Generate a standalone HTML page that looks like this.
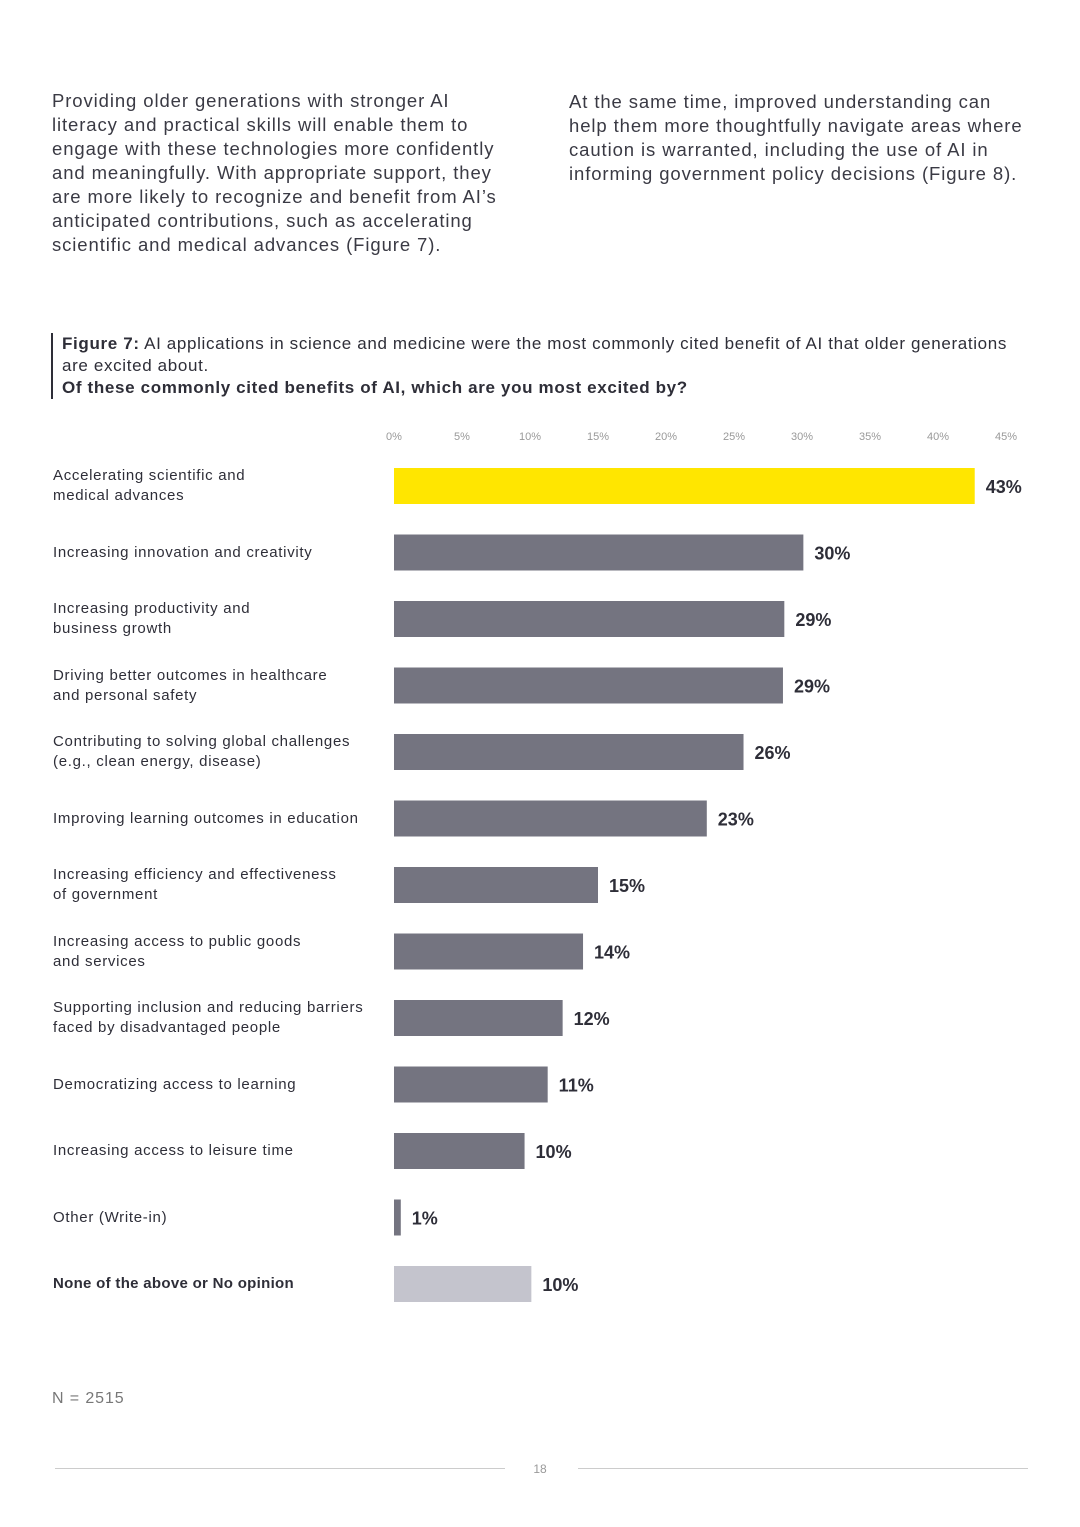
<!DOCTYPE html>
<html><head><meta charset="utf-8"><style>
body{margin:0;width:1080px;height:1527px;background:#fff;font-family:"Liberation Sans",sans-serif;color:#2e2e38;position:relative;overflow:hidden}
.p{position:absolute;font-size:18.5px;line-height:24px;letter-spacing:0.9px;color:#3a3a44;white-space:nowrap}
.cap{position:absolute;left:51px;top:333px;border-left:2px solid #2e2e38;padding-left:9px;font-size:17px;line-height:22px;letter-spacing:0.65px;white-space:nowrap;color:#2e2e38}
.lbl{position:absolute;left:53px;font-size:15px;line-height:20px;letter-spacing:0.7px;color:#2e2e38;white-space:nowrap}
</style></head><body>
<div class="p" style="left:52px;top:89px">Providing older generations with stronger AI<br>literacy and practical skills will enable them to<br>engage with these technologies more confidently<br>and meaningfully. With appropriate support, they<br>are more likely to recognize and benefit from AI’s<br>anticipated contributions, such as accelerating<br>scientific and medical advances (Figure 7).</div>
<div class="p" style="left:569px;top:90px">At the same time, improved understanding can<br>help them more thoughtfully navigate areas where<br>caution is warranted, including the use of AI in<br>informing government policy decisions (Figure 8).</div>
<div class="cap"><b>Figure 7:</b> AI applications in science and medicine were the most commonly cited benefit of AI that older generations<br>are excited about.<br><b>Of these commonly cited benefits of AI, which are you most excited by?</b></div>
<svg id="chart" width="1080" height="1527" style="position:absolute;left:0;top:0"></svg>
<div class="p" style="left:52px;top:1387px;font-size:16px;color:#777">N = 2515</div>
<div style="position:absolute;left:55px;top:1468px;width:450px;height:1px;background:#ccc"></div>
<div style="position:absolute;left:578px;top:1468px;width:450px;height:1px;background:#ccc"></div>
<div style="position:absolute;left:520px;width:40px;text-align:center;top:1462px;font-size:12px;color:#999">18</div>
<script>
const categories=["Accelerating scientific and|medical advances","Increasing innovation and creativity","Increasing productivity and|business growth","Driving better outcomes in healthcare|and personal safety","Contributing to solving global challenges|(e.g., clean energy, disease)","Improving learning outcomes in education","Increasing efficiency and effectiveness|of government","Increasing access to public goods|and services","Supporting inclusion and reducing barriers|faced by disadvantaged people","Democratizing access to learning","Increasing access to leisure time","Other (Write-in)","None of the above or No opinion"];
const values=[42.7,30.1,28.7,28.6,25.7,23.0,15.0,13.9,12.4,11.3,9.6,0.5,10.1];
const valueLabels=["43%","30%","29%","29%","26%","23%","15%","14%","12%","11%","10%","1%","10%"];
const ticks=[0,5,10,15,20,25,30,35,40,45];
const svg=document.getElementById('chart');const NS='http://www.w3.org/2000/svg';
const x0=394,pxPer=13.6,y0=486,step=66.5,bh=36;
const xs=v=>x0+v*pxPer, ys=i=>y0+i*step;
function mk(t,a){const e=document.createElementNS(NS,t);for(const k in a)e.setAttribute(k,a[k]);svg.appendChild(e);return e;}
ticks.forEach(t=>{const e=mk('text',{x:xs(t),y:440,'text-anchor':'middle','font-size':11,fill:'#999','font-family':'Liberation Sans'});e.textContent=t+'%';

});
values.forEach((v,i)=>{
 const last=i===values.length-1;
 const col=i===0?'#ffe600':(last?'#c4c4cd':'#747480');
 const r=mk('rect',{x:x0,y:ys(i)-bh/2,width:Math.max(v*pxPer,1),height:bh,fill:col});
 
 
 const t=mk('text',{x:xs(v)+11,y:ys(i)+7,'font-size':18,'font-weight':'bold',fill:'#2e2e38','font-family':'Liberation Sans'});t.textContent=valueLabels[i];
 
 
 const lines=categories[i].split('|');
 const d=document.createElement('div');d.className='lbl';
 
 
 d.style.top=(ys(i)-lines.length*10)+'px';
 if(last){d.style.fontWeight='bold';d.style.letterSpacing='0.3px';}
 d.innerHTML=lines.join('<br>');document.body.appendChild(d);
});
</script>
</body></html>
